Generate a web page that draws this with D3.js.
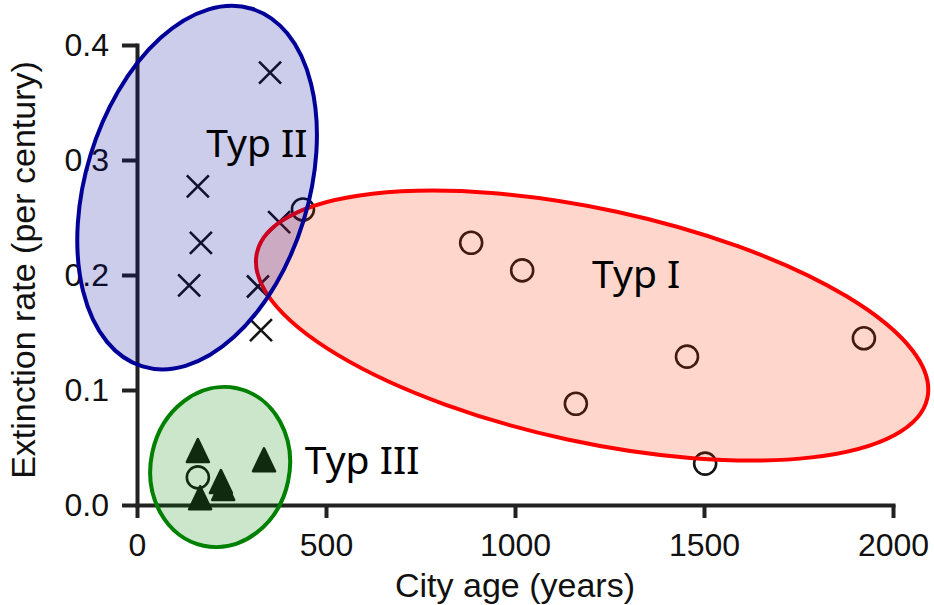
<!DOCTYPE html>
<html>
<head>
<meta charset="utf-8">
<script src="https://cdn.jsdelivr.net/npm/d3@7"></script>
<style>
    body { margin: 0; background: #fff; }
    .axis path, .axis line { stroke: #222; stroke-width: 4; }
    .axis text { font-family: "Liberation Sans", Arial, sans-serif; font-size: 32px; fill: #111; }
    .axisTitle { font-family: "Liberation Sans", Arial, sans-serif; font-size: 34px; fill: #111; }
    .typ { font-family: "Noto Sans", sans-serif; font-size: 39px; fill: #000; }
</style>
</head>
<body>
<script>
//data
var typIAge = [439, 884, 1019, 1455, 1161, 1923, 1503, 161];
var typIRate = [0.257, 0.228, 0.204, 0.129, 0.088, 0.145, 0.036, 0.024];
var typIIAge = [352, 161, 169, 138, 320, 328, 376];
var typIIRate = [0.376, 0.277, 0.228, 0.191, 0.190, 0.152, 0.246];
var typIIIAge = [161, 336, 222, 228, 167];
var typIIIRate = [0.044, 0.036, 0.017, 0.011, 0.003];

var xTicks = [0, 500, 1000, 1500, 2000];
var yTicks = [0, 0.1, 0.2, 0.3, 0.4];

//group annotations (ellipses + labels), in data units
var groupNames = ["Typ I", "Typ II", "Typ III"];
var groupCentreAge = [1204, 159, 220];
var groupCentreRate = [0.156, 0.276, 0.033];
var labelAge = [1204, 183, 444];
var labelRate = [0.189, 0.303, 0.027];

(function(){
    var width = 934, height = 605;

    var svg = d3.select("body")
        .append("svg")
        .attr("width", width)
        .attr("height", height);

    var x = d3.scaleLinear().domain([0, 2000]).range([137, 893]);
    var y = d3.scaleLinear().domain([0, 0.4]).range([505, 45]);

    //axes
    var xAxis = d3.axisBottom(x)
        .tickValues(xTicks)
        .tickFormat(d3.format("d"))
        .tickSizeInner(13)
        .tickSizeOuter(0)
        .tickPadding(15);

    var yAxis = d3.axisLeft(y)
        .tickValues(yTicks)
        .tickFormat(d3.format(".1f"))
        .tickSizeInner(15)
        .tickSizeOuter(0)
        .tickPadding(13);

    svg.append("g")
        .attr("class", "axis")
        .attr("transform", "translate(0," + y(0) + ")")
        .call(xAxis);

    svg.append("g")
        .attr("class", "axis")
        .attr("transform", "translate(" + x(0) + ",0)")
        .call(yAxis);

    svg.selectAll(".axis .domain").attr("stroke-linecap", "square");

    //axis titles
    svg.append("text")
        .attr("class", "axisTitle")
        .attr("text-anchor", "middle")
        .attr("x", (x(0) + x(2000)) / 2)
        .attr("y", 597)
        .text("City age (years)");

    svg.append("text")
        .attr("class", "axisTitle")
        .attr("text-anchor", "middle")
        .attr("transform", "rotate(-90)")
        .attr("x", -270)
        .attr("y", 35)
        .text("Extinction rate (per century)");

    var markColor = "#151515";

    //Typ II crosses
    svg.selectAll(".cross")
        .data(d3.range(typIIAge.length))
        .enter()
        .append("path")
        .attr("class", "cross")
        .attr("transform", function(i){
            return "translate(" + x(typIIAge[i]) + "," + y(typIIRate[i]) + ")";
        })
        .attr("d", "M-11,-11L11,11M-11,11L11,-11")
        .attr("fill", "none")
        .attr("stroke", markColor)
        .attr("stroke-width", 2.6);

    //Typ I circles
    svg.selectAll(".circ")
        .data(d3.range(typIAge.length))
        .enter()
        .append("circle")
        .attr("class", "circ")
        .attr("cx", function(i){ return x(typIAge[i]); })
        .attr("cy", function(i){ return y(typIRate[i]); })
        .attr("r", 11)
        .attr("fill", "none")
        .attr("stroke", markColor)
        .attr("stroke-width", 2.6);

    //Typ III triangles
    var tw = 22, th = 23;
    var triPath = "M0," + (-2 * th / 3) + "L" + (tw / 2) + "," + (th / 3) +
        "L" + (-tw / 2) + "," + (th / 3) + "Z";
    svg.selectAll(".tri")
        .data(d3.range(typIIIAge.length))
        .enter()
        .append("path")
        .attr("class", "tri")
        .attr("transform", function(i){
            return "translate(" + x(typIIIAge[i]) + "," + y(typIIIRate[i]) + ")";
        })
        .attr("d", triPath)
        .attr("fill", markColor)
        .attr("stroke", markColor)
        .attr("stroke-width", 2.5)
        .attr("stroke-linejoin", "round");

    //ellipses drawn over everything, semi-transparent
    var ellStyle = [
        {rx: 343, ry: 116.5, rot: 12.2, fill: "#ff3300", stroke: "#ff0000"},
        {rx: 111.5, ry: 187, rot: 17, fill: "#000099", stroke: "#000099"},
        {rx: 69.4, ry: 80.5, rot: 12, fill: "#008000", stroke: "#008000"}
    ];

    svg.selectAll(".group")
        .data(d3.range(groupNames.length))
        .enter()
        .append("ellipse")
        .attr("class", "group")
        .attr("cx", function(i){ return x(groupCentreAge[i]); })
        .attr("cy", function(i){ return y(groupCentreRate[i]); })
        .attr("rx", function(i){ return ellStyle[i].rx; })
        .attr("ry", function(i){ return ellStyle[i].ry; })
        .attr("transform", function(i){
            return "rotate(" + ellStyle[i].rot + "," + x(groupCentreAge[i]) + "," + y(groupCentreRate[i]) + ")";
        })
        .attr("fill", function(i){ return ellStyle[i].fill; })
        .attr("fill-opacity", 0.2)
        .attr("stroke", function(i){ return ellStyle[i].stroke; })
        .attr("stroke-width", 4);

    //group labels
    svg.selectAll(".typ")
        .data(d3.range(groupNames.length))
        .enter()
        .append("text")
        .attr("class", "typ")
        .attr("x", function(i){ return x(labelAge[i]); })
        .attr("y", function(i){ return y(labelRate[i]); })
        .text(function(i){ return groupNames[i]; });
})();
</script>
</body>
</html>
